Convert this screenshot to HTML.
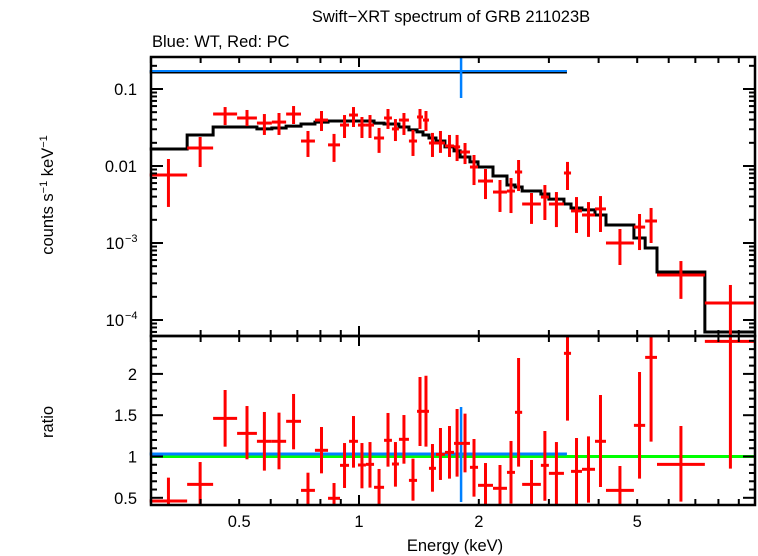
<!DOCTYPE html>
<html><head><meta charset="utf-8"><style>
body{margin:0;background:#fff;}
svg{display:block;font-family:"Liberation Sans",sans-serif;}
</style></head><body>
<svg id="chart" width="758" height="556" viewBox="0 0 758 556">
<text x="451" y="22" font-size="16.5" text-anchor="middle">Swift−XRT spectrum of GRB 211023B</text>
<text x="152" y="47" font-size="16.5">Blue: WT, Red: PC</text>
<text transform="translate(53,195) rotate(-90)" font-size="16.5" text-anchor="middle">counts s<tspan dy="-6" font-size="11">−1</tspan><tspan dy="6"> keV</tspan><tspan dy="-6" font-size="11">−1</tspan></text>
<text transform="translate(53,422) rotate(-90)" font-size="16.5" text-anchor="middle">ratio</text>
<text x="455" y="551" font-size="16.5" text-anchor="middle">Energy (keV)</text>
<g id="g"></g>
</svg>
<script>
// energy bin edges (keV) for PC spectrum
const binEdges=[0.298,0.370,0.430,0.494,0.554,0.604,0.656,0.715,0.775,0.836,0.896,0.944,0.994,1.041,1.091,1.156,1.210,1.260,1.335,1.399,1.448,1.499,1.561,1.644,1.733,1.795,1.900,1.991,2.171,2.354,2.466,2.570,2.864,3.0,3.273,3.41,3.633,3.917,4.174,4.906,5.236,5.607,7.396,9.94];
const pcFlux=[0.00764,0.01714,0.0473,0.0420,0.0361,0.0372,0.0473,0.0211,0.0395,0.0188,0.0340,0.0459,0.0340,0.0340,0.0231,0.0420,0.0303,0.0395,0.0211,0.0433,0.0395,0.0199,0.0199,0.0182,0.0177,0.0152,0.0097,0.00638,0.00459,0.00473,0.00836,0.00321,0.00395,0.00321,0.00811,0.00261,0.00231,0.00277,0.00100,0.00161,0.00193,0.000384,0.000166];
const pcFluxLo=[0.00294,0.0097,0.0340,0.0330,0.0253,0.0253,0.0351,0.0131,0.0285,0.0113,0.0231,0.0321,0.0231,0.0231,0.0148,0.0303,0.0211,0.0253,0.0135,0.0303,0.0285,0.0131,0.0148,0.0131,0.0116,0.0106,0.00566,0.00372,0.00253,0.00245,0.00473,0.00177,0.00199,0.00161,0.00488,0.00135,0.00120,0.00139,0.000518,0.00081,0.00100,0.000188,0.000055];
const pcFluxHi=[0.01233,0.0238,0.0583,0.0534,0.0473,0.0488,0.0601,0.0285,0.0518,0.0261,0.0459,0.0583,0.0433,0.0459,0.0312,0.0550,0.0407,0.0488,0.0294,0.0550,0.0518,0.0269,0.0285,0.0253,0.0253,0.0199,0.0139,0.00914,0.00658,0.00698,0.01197,0.00446,0.00566,0.00459,0.0113,0.00395,0.00340,0.00407,0.00152,0.00238,0.00285,0.000583,0.000285];
const pcModel=[0.0166,0.0253,0.0321,0.0321,0.0303,0.0312,0.0330,0.0351,0.0372,0.0384,0.0384,0.0384,0.0384,0.0384,0.0361,0.0351,0.0351,0.0321,0.0294,0.0277,0.0253,0.0231,0.0211,0.0177,0.0157,0.0131,0.0113,0.0097,0.00741,0.00566,0.00533,0.00473,0.00433,0.00372,0.00321,0.00285,0.00269,0.00231,0.00171,0.00116,0.00086,0.00042,0.0000698];
const pcRatio=[0.461,0.663,1.462,1.280,1.184,1.184,1.426,0.590,1.075,0.494,0.893,1.184,0.897,0.905,0.627,1.196,0.909,1.208,0.711,1.547,1.547,0.857,1.026,1.050,1.159,1.159,0.869,0.651,0.615,0.808,1.535,0.663,0.893,0.796,2.249,0.820,0.845,1.184,0.590,1.377,2.200,0.905,2.394];
const pcRatioLo=[0.35,0.35,1.119,0.966,0.829,0.845,1.087,0.35,0.796,0.35,0.619,0.865,0.615,0.623,0.409,0.877,0.635,0.913,0.465,1.127,1.119,0.574,0.716,0.732,0.756,0.808,0.514,0.35,0.35,0.429,0.877,0.35,0.465,0.417,1.434,0.35,0.441,0.631,0.35,0.732,1.180,0.453,0.853];
const pcRatioHi=[0.744,0.933,1.805,1.611,1.539,1.531,1.757,0.804,1.357,0.679,1.163,1.490,1.163,1.175,0.849,1.527,1.175,1.502,0.974,1.962,1.978,1.151,1.345,1.369,1.575,1.519,1.212,0.921,0.897,1.188,2.192,0.958,1.309,1.175,2.6,1.224,1.244,1.744,0.885,2.023,2.6,1.369,2.6];
// WT spectrum (single bin)
const wtEdges=[0.298,3.33];
const wtCenter=[1.805];
const wtFlux=[0.166], wtFluxLo=[0.0764], wtFluxHi=[0.3];
const wtModel=[0.166];
const wtRatio=[1.03], wtRatioLo=[0.449], wtRatioHi=[1.599];
const xTickVals=[0.5,1,2,5];
const xTickLabels=["0.5","1","2","5"];
const topTickVals=[0.1,0.01,0.001,0.0001];
const ratioTickVals=[0.5,1,1.5,2];
const ratioTickLabels=["0.5","1","1.5","2"];

const L=151,R=755,T1=57,B1=336,T2=336,B2=505;
const X=e=>359+398*Math.log10(e);
const Y1=f=>Math.max(T1,Math.min(B1,89-77*(Math.log10(f)+1)));
const Y2=r=>Math.max(T2,Math.min(B2,456.5-82.6*(r-1)));
const NS="http://www.w3.org/2000/svg";
const g=document.getElementById('g');
function mk(tag,attrs,name){const el=document.createElementNS(NS,tag);for(const k in attrs)el.setAttribute(k,attrs[k]);


g.appendChild(el);return el;}
function line(x1,y1,x2,y2,c,w,name){return mk('line',{x1,y1,x2,y2,stroke:c,'stroke-width':w},name);}

// green unity line
line(L,Y2(1),R,Y2(1),'#00ff00',3,'unity-line');
// WT
line(X(wtEdges[0]),Y1(wtModel[0]),X(wtEdges[1]),Y1(wtModel[0]),'#000',3,'wt-model');
line(X(wtEdges[0]),Y1(wtFlux[0])-1,X(wtEdges[1]),Y1(wtFlux[0])-1,'#0080ff',2,'wt-flux-xerr');
line(X(wtCenter[0]),Y1(wtFluxHi[0]),X(wtCenter[0]),Y1(wtFluxLo[0]),'#0080ff',2.5,'wt-flux-yerr');
line(X(wtEdges[0]),Y2(wtRatio[0]),X(wtEdges[1]),Y2(wtRatio[0]),'#0080ff',3,'wt-ratio-xerr');
line(X(wtCenter[0]),Y2(wtRatioHi[0]),X(wtCenter[0]),Y2(wtRatioLo[0]),'#0080ff',2.5,'wt-ratio-yerr');
// model step
let d='';
for(let i=0;i<pcModel.length;i++){const x0=X(binEdges[i]),x1=X(binEdges[i+1]),y=Y1(pcModel[i]);d+=(i?'L':'M')+x0+' '+y+'L'+x1+' '+y;}
mk('path',{d,fill:'none',stroke:'#000','stroke-width':3},'pc-model-step');
// PC points
for(let i=0;i<pcFlux.length;i++){
 const x0=X(binEdges[i]),x1=X(binEdges[i+1]),xc=X(Math.sqrt(binEdges[i]*binEdges[i+1]));
 line(x0,Y1(pcFlux[i]),x1,Y1(pcFlux[i]),'#ff0000',3,'pc-flux-xerr');
 line(xc,Y1(pcFluxHi[i]),xc,Y1(pcFluxLo[i]),'#ff0000',3,'pc-flux-yerr');
 line(x0,Y2(pcRatio[i]),x1,Y2(pcRatio[i]),'#ff0000',3,'pc-ratio-xerr');
 line(xc,Y2(pcRatioHi[i]),xc,Y2(pcRatioLo[i]),'#ff0000',3,'pc-ratio-yerr');
}
// frames
mk('rect',{x:L,y:T1,width:R-L,height:B1-T1,fill:'none',stroke:'#000','stroke-width':2.5},'top-frame');
mk('rect',{x:L,y:T2,width:R-L,height:B2-T2,fill:'none',stroke:'#000','stroke-width':2.5},'bottom-frame');
// x ticks
for(let dec=-1;dec<=0;dec++)for(let m=1;m<10;m++){const e=m*Math.pow(10,dec);if(e<0.298||e>9.94)continue;
 const x=X(e),maj=(m===1&&dec===0)||m===5&&dec===-1||m===2&&dec===0||m===5&&dec===0;const len=(e===1)?10:6;
 [[T1,1],[B1,-1],[T2,1],[B2,-1]].forEach(([y,s])=>line(x,y,x,y+s*len,'#000',2,'x-tick'));}
xTickVals.forEach((v,i)=>{const t=mk('text',{x:X(v),y:527,'font-size':16.5,'text-anchor':'middle'},'x-tick-label');t.textContent=xTickLabels[i];});
// top y ticks
for(let dec=-5;dec<=-1;dec++)for(let m=1;m<10;m++){const f=m*Math.pow(10,dec);const y=Y1(f);if(y<=T1+0.5||y>=B1-0.5)continue;
 const len=m===1?12:6;line(L,y,L+len,y,'#000',2,'y-tick-top');line(R,y,R-len,y,'#000',2,'y-tick-top');}
[["0.1",0.1],["0.01",0.01]].forEach(([s,v])=>{const t=mk('text',{x:137,y:Y1(v)+6,'font-size':16.5,'text-anchor':'end'},'y-tick-label-top');t.textContent=s;});
[["−3",0.001],["−4",0.0001]].forEach(([s,v])=>{const t=mk('text',{x:124,y:Y1(v)+6,'font-size':16.5,'text-anchor':'end'},'y-tick-label-top');t.textContent='10';
 const t2=mk('text',{x:125,y:Y1(v)-1,'font-size':11},'y-tick-label-exp');t2.textContent=s;});
// ratio ticks
for(let k=5;k<=24;k++){const r=k/10;const y=Y2(r);if(y<=T2+0.5||y>=B2-0.5)continue;const len=(k%5===0)?12:6;
 line(L,y,L+len,y,'#000',2,'y-tick-bottom');line(R,y,R-len,y,'#000',2,'y-tick-bottom');}
ratioTickVals.forEach((v,i)=>{const t=mk('text',{x:137,y:Y2(v)+6,'font-size':16.5,'text-anchor':'end'},'y-tick-label-bottom');t.textContent=ratioTickLabels[i];});
</script>
</body></html>
